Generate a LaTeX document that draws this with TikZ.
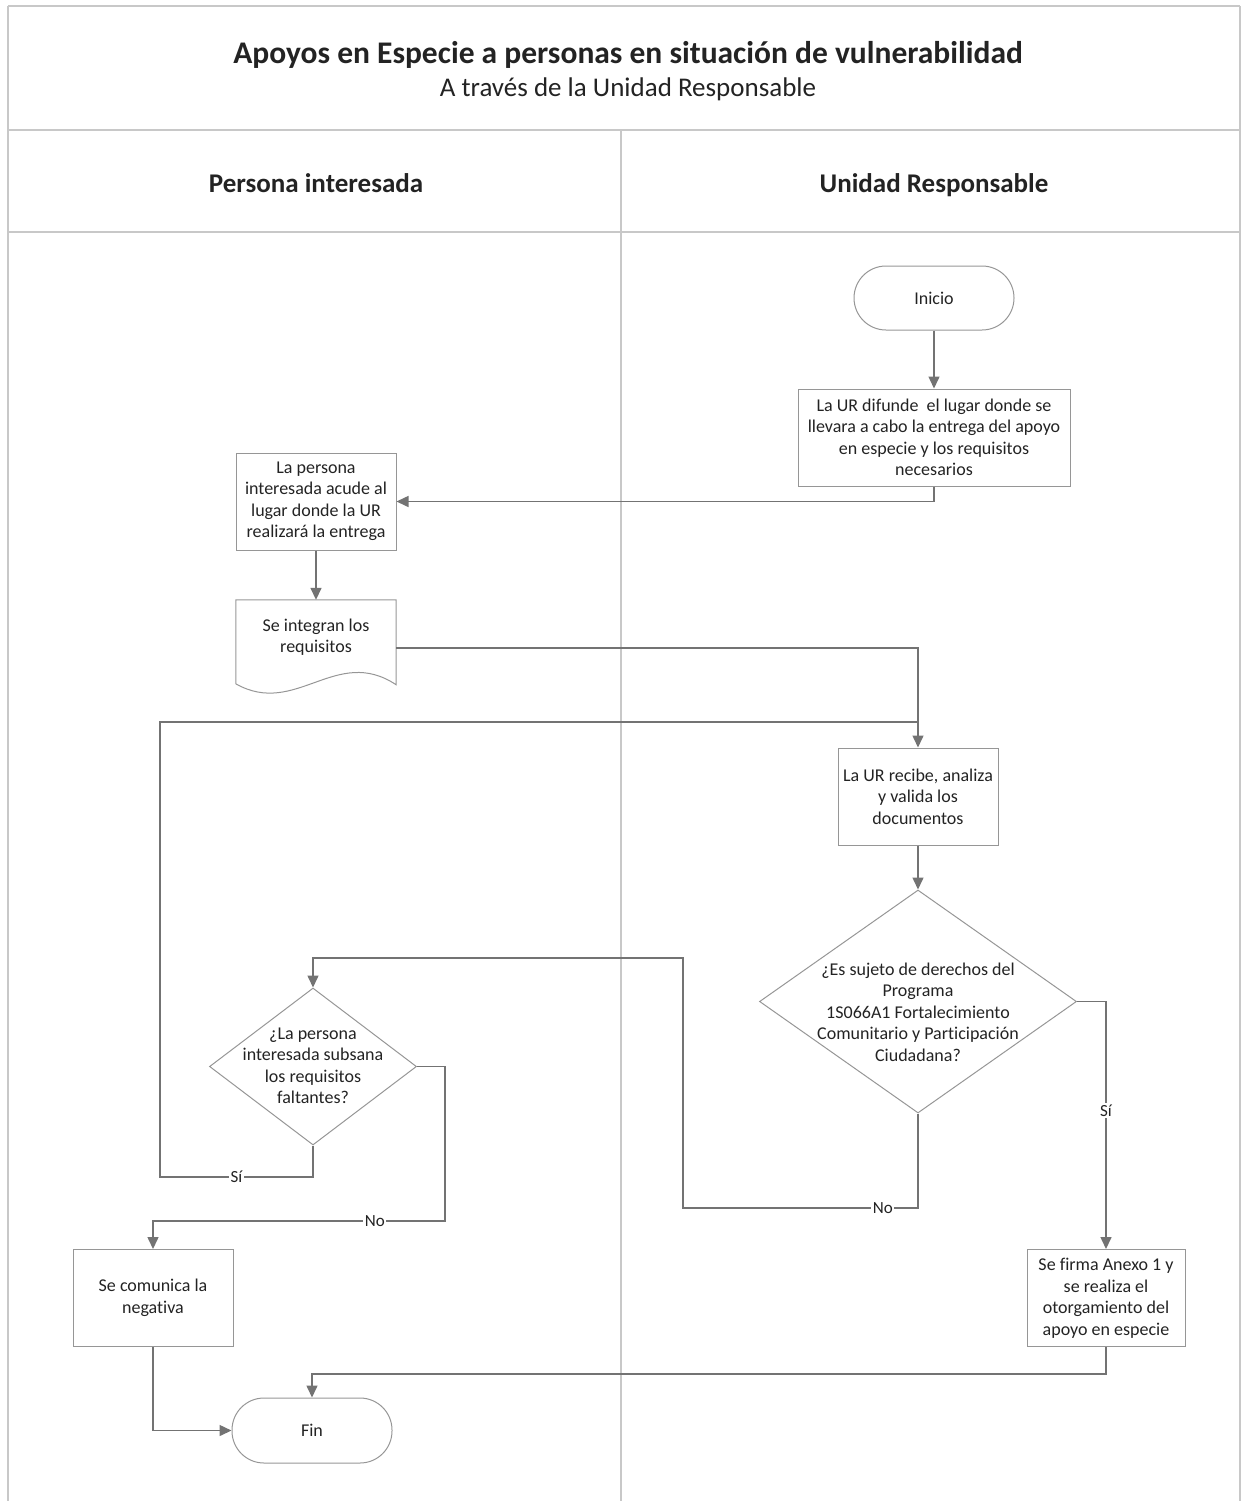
\documentclass[tikz,border=0pt]{standalone}
\usepackage{fontspec}
\setmainfont{Carlito}[Ligatures=NoCommon]
\usetikzlibrary{arrows.meta,shapes.geometric,calc}
\definecolor{frameln}{RGB}{200,200,200}
\definecolor{boxln}{RGB}{150,150,150}
\definecolor{conn}{RGB}{115,115,115}
\definecolor{txt}{RGB}{35,35,35}
\tikzset{
  every node/.style={text=txt},
  frame/.style={draw=frameln,line width=1.2pt},
  procbox/.style={draw=boxln,line width=1pt,minimum width=#1,minimum height=97pt,inner sep=0pt,align=center,
    font=\fontsize{18}{21.5}\selectfont},
  procbox/.default=160pt,
  term/.style={draw=boxln,line width=1pt,minimum width=160pt,minimum height=64pt,rounded corners=32pt,inner sep=0pt,
    font=\fontsize{18}{21.5}\selectfont},
  decision/.style={draw=boxln,line width=1pt,shape=diamond,inner sep=0pt},
  qtext/.style={align=center,inner sep=0pt,font=\fontsize{18}{21.5}\selectfont},
  line/.style={draw=conn,line width=1.5pt},
  arr/.style={line,-{Triangle[length=12pt,width=11pt]}},
  lbl/.style={fill=white,inner sep=1.5pt,font=\fontsize{17}{20}\selectfont},
  lanehead/.style={anchor=base,font=\bfseries\fontsize{27}{32}\selectfont},
}
\begin{document}
\begin{tikzpicture}[x=1pt,y=-1pt]
\useasboundingbox (0,0) rectangle (1243,1501);

% page frame, title band and swimlanes
\draw[frame] (8,6) -- (1240,6);
\draw[frame] (8,130) -- (1240,130);
\draw[frame] (8,232) -- (1240,232);
\draw[frame] (8,6) -- (8,1501);
\draw[frame] (1240,6) -- (1240,1501);
\draw[frame] (621,130) -- (621,1501);

\node[font=\bfseries\fontsize{31.5}{36}\selectfont] (title) at (628,55) {Apoyos en Especie a personas en situación de vulnerabilidad};
\node[font=\fontsize{27}{32}\selectfont] (subtitle) at (628,89) {A través de la Unidad Responsable};
\node[lanehead] (laneA) at (316,192) {Persona interesada};
\node[lanehead] (laneB) at (934,192) {Unidad Responsable};

% process steps
\node[term] (inicio) at (934,298) {Inicio};
\node[procbox=272pt] (difunde) at (934,437.5) {La UR difunde\ \ el lugar donde se\\llevara a cabo la entrega del apoyo\\en especie y los requisitos\\necesarios};
\node[procbox] (persona) at (316,501.5) {La persona\\interesada acude al\\lugar donde la UR\\realizará la entrega};
\node[minimum width=160pt,minimum height=96pt,inner sep=0pt] (doc) at (316,648) {};
\draw[draw=boxln,line width=1pt] (doc.north west) -- (doc.north east) -- ($(doc.north east)+(0,85)$)
   .. controls ($(doc.north east)+(-60,45)$) and ($(doc.north west)+(60,118)$) .. ($(doc.north west)+(0,84)$) -- cycle;
\node[qtext] (doct) at (316,637) {Se integran los\\requisitos};
\node[procbox] (recibe) at (918,796.5) {La UR recibe, analiza\\y valida los\\documentos};
\node[decision,minimum width=317pt,minimum height=223pt] (d1) at (918,1001.5) {};
\node[qtext] (d1t) at (918,1012) {¿Es sujeto de derechos del\\Programa\\1S066A1 Fortalecimiento\\Comunitario y Participación\\Ciudadana?};
\node[decision,minimum width=207pt,minimum height=157pt] (d2) at (313,1066.5) {};
\node[qtext] (d2t) at (313,1066) {¿La persona\\interesada subsana\\los requisitos\\faltantes?};
\node[procbox] (neg) at (153,1298) {Se comunica la\\negativa};
\node[procbox=158pt] (firma) at (1106,1298) {Se firma Anexo 1 y\\se realiza el\\otorgamiento del\\apoyo en especie};
\node[term,minimum height=65pt] (fin) at (312,1430.5) {Fin};

% routing points
\coordinate (join) at (918,722);
\coordinate (loopB) at (160,1177);
\coordinate (loopT) at (160,722);
\coordinate (noB) at (683,1208);
\coordinate (noT) at (683,958);
\coordinate (noR) at (445,1221);
\coordinate (endR) at (1106,1374);

% connectors
\draw[arr] (inicio) -- (difunde);
\draw[arr] (difunde.south) |- (persona.east);
\draw[arr] (persona) -- (doc.north);
\draw[arr] (doc.east) -| (recibe.north);
\draw[line] (d2.south) |- node[lbl,pos=.75] {Sí} (loopB) -- (loopT) -- (join);
\draw[arr] (recibe) -- (d1.north);
\draw[arr] (d1.east) -| node[lbl,pos=.72] {Sí} (firma.north);
\draw[arr] (d1.south) |- node[lbl,pos=.575] {No} (noB) -- (noT) -| (d2.north);
\draw[arr] (d2.east) -| (noR) -| node[lbl,pos=.12] {No} (neg.north);
\draw[arr] (firma.south) -- (endR) -| (fin.north);
\draw[arr] (neg.south) |- (fin.west);
\end{tikzpicture}
\end{document}
